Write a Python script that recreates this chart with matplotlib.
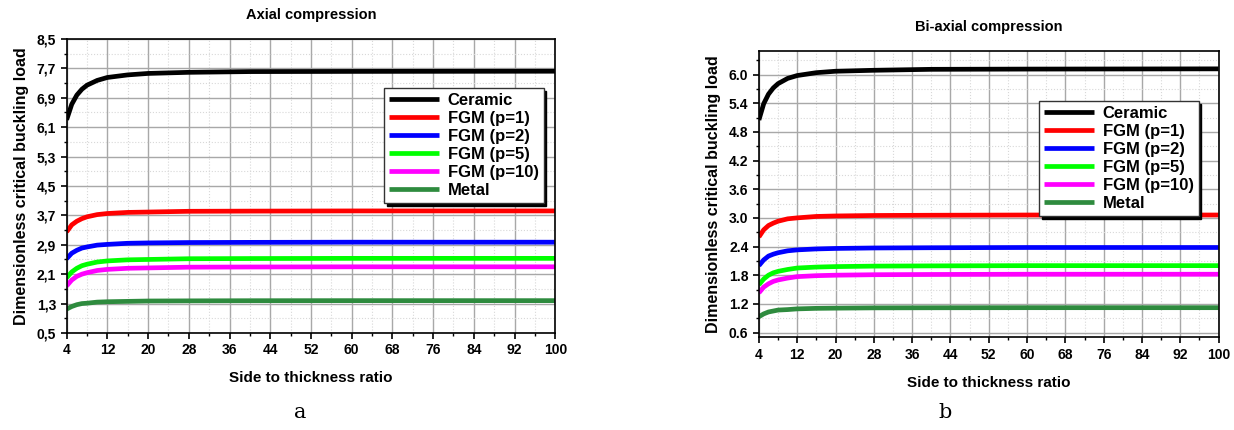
import matplotlib
matplotlib.use("Agg")
import numpy as np
from matplotlib import pyplot as plt
from matplotlib.ticker import FuncFormatter

# side to thickness ratio
ratio = [4, 5, 6, 7, 8, 10, 12, 16, 20, 28, 40, 60, 100]

labels = ['Ceramic', 'FGM (p=1)', 'FGM (p=2)', 'FGM (p=5)', 'FGM (p=10)', 'Metal']
colors = ['#000000', '#ff0000', '#0000ff', '#00ff00', '#ff00ff', '#2e8b3e']

# axial compression
axial_ceramic = [6.30, 6.72, 6.97, 7.13, 7.24, 7.37, 7.45, 7.52, 7.56, 7.59, 7.61, 7.615, 7.62]
axial_p1 = [3.25, 3.44, 3.54, 3.61, 3.66, 3.72, 3.75, 3.78, 3.79, 3.81, 3.815, 3.82, 3.82]
axial_p2 = [2.52, 2.67, 2.75, 2.81, 2.84, 2.89, 2.91, 2.94, 2.95, 2.96, 2.965, 2.97, 2.97]
axial_p5 = [2.00, 2.16, 2.26, 2.33, 2.37, 2.43, 2.46, 2.49, 2.50, 2.52, 2.525, 2.53, 2.53]
axial_p10 = [1.78, 1.94, 2.04, 2.10, 2.14, 2.20, 2.23, 2.26, 2.27, 2.29, 2.295, 2.30, 2.30]
axial_metal = [1.15, 1.22, 1.27, 1.30, 1.31, 1.34, 1.35, 1.36, 1.37, 1.374, 1.378, 1.38, 1.38]

# bi-axial compression
biax_ceramic = [5.05, 5.39, 5.59, 5.72, 5.81, 5.92, 5.98, 6.04, 6.07, 6.09, 6.11, 6.115, 6.12]
biax_p1 = [2.60, 2.75, 2.84, 2.89, 2.93, 2.98, 3.00, 3.03, 3.04, 3.05, 3.055, 3.06, 3.06]
biax_p2 = [2.00, 2.12, 2.20, 2.24, 2.27, 2.31, 2.33, 2.35, 2.36, 2.37, 2.375, 2.38, 2.38]
biax_p5 = [1.60, 1.72, 1.80, 1.85, 1.88, 1.92, 1.95, 1.97, 1.98, 1.99, 1.995, 2.00, 2.00]
biax_p10 = [1.43, 1.55, 1.62, 1.67, 1.70, 1.74, 1.77, 1.79, 1.80, 1.81, 1.815, 1.82, 1.82]
biax_metal = [0.93, 0.99, 1.03, 1.05, 1.07, 1.08, 1.095, 1.106, 1.11, 1.116, 1.118, 1.12, 1.12]

axial = [axial_ceramic, axial_p1, axial_p2, axial_p5, axial_p10, axial_metal]
biax = [biax_ceramic, biax_p1, biax_p2, biax_p5, biax_p10, biax_metal]

plt.rcParams['font.family'] = ['Liberation Sans', 'DejaVu Sans']
plt.rcParams['font.weight'] = 'bold'

fig = plt.figure(figsize=(12.34, 4.3), dpi=100)
ax1 = fig.add_axes([0.054, 0.2256, 0.396, 0.684])
ax2 = fig.add_axes([0.615, 0.2156, 0.3725, 0.6665])


def style(ax, series, title, ylim, yticks, yminor, comma, legend_anchor):
    for vals, lab, c in zip(series, labels, colors):
        ax.plot(ratio, vals, color=c, lw=3.4, label=lab, solid_capstyle='butt')
    ax.set_xlim(4, 100)
    ax.set_ylim(*ylim)
    ax.set_xticks(np.arange(4, 101, 8))
    ax.set_xticks(np.arange(4, 101, 4), minor=True)
    ax.set_yticks(yticks)
    ax.set_yticks(yminor, minor=True)
    if comma:
        ax.yaxis.set_major_formatter(FuncFormatter(lambda v, p: f"{v:.1f}".replace('.', ',')))
    else:
        ax.yaxis.set_major_formatter(FuncFormatter(lambda v, p: f"{v:.1f}"))
    ax.grid(which='major', color='#a8a8a8', lw=1.0, ls='-')
    ax.grid(which='minor', color='#d8d8d8', lw=0.8, ls=':')
    ax.set_axisbelow(True)
    ax.tick_params(which='major', direction='out', length=4, width=1.2, labelsize=10)
    ax.tick_params(which='minor', direction='out', length=2.5, width=1.0)
    for lbl in ax.get_xticklabels() + ax.get_yticklabels():
        lbl.set_fontweight('bold')
    for s in ax.spines.values():
        s.set_linewidth(1.2)
    ax.set_title(title, fontsize=10.5, fontweight='bold', pad=14)
    ax.set_xlabel('Side to thickness ratio', fontsize=11, fontweight='bold', labelpad=10)
    ax.set_ylabel('Dimensionless critical buckling load', fontsize=11.5, fontweight='bold', labelpad=6)
    leg = ax.legend(loc='upper left', bbox_to_anchor=legend_anchor, fontsize=12,
                    frameon=True, fancybox=False, shadow={'color': 'k', 'alpha': 1},
                    handlelength=3.0, handletextpad=0.5, labelspacing=0.18,
                    borderpad=0.3, borderaxespad=0)
    leg.get_frame().set_edgecolor('#333333')
    leg.get_frame().set_linewidth(1.0)
    for t in leg.get_texts():
        t.set_fontweight('bold')


style(ax1, axial, 'Axial compression', (0.5, 8.5),
      np.arange(0.5, 8.51, 0.8), np.arange(0.5, 8.51, 0.4), True, (0.65, 0.833))
style(ax2, biax, 'Bi-axial compression', (0.5, 6.5),
      np.arange(0.6, 6.01, 0.6), np.arange(0.6, 6.41, 0.3), False, (0.61, 0.825))

fig.text(0.243, 0.028, 'a', fontsize=15, family='DejaVu Serif', fontweight='normal', ha='center')
fig.text(0.766, 0.028, 'b', fontsize=15, family='DejaVu Serif', fontweight='normal', ha='center')

fig.savefig('out.png', dpi=100)
